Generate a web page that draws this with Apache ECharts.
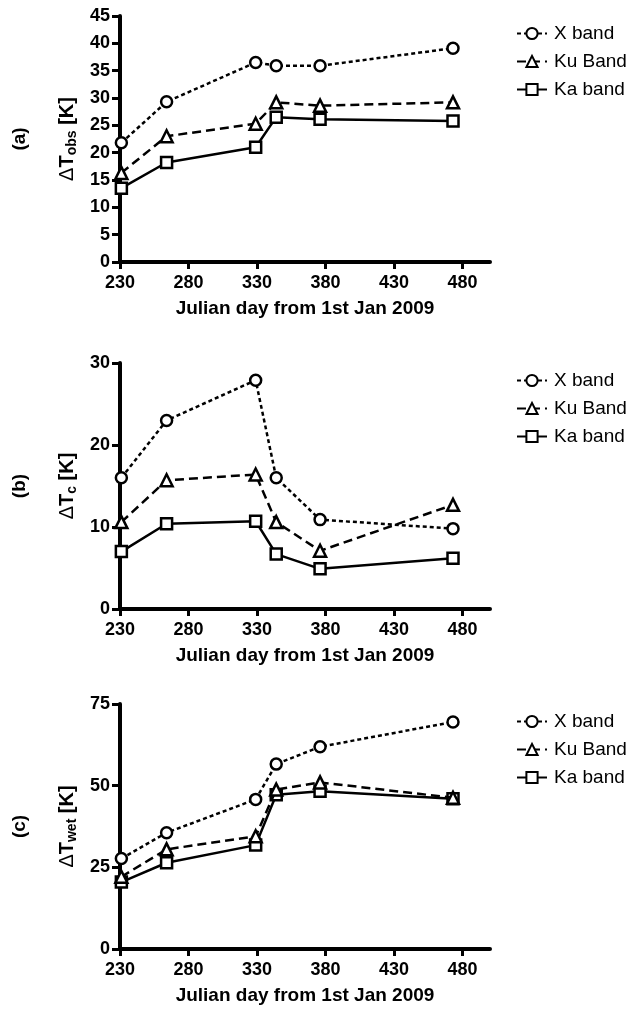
<!DOCTYPE html>
<html>
<head>
<meta charset="utf-8">
<script src="https://cdn.jsdelivr.net/npm/echarts@6/dist/echarts.min.js"></script>
<style>
  html, body { margin: 0; padding: 0; background: #fff; }
  #chart { width: 633px; height: 1011px; }
</style>
</head>
<body>
<div id="chart"></div>
<script>
// julian day of each measurement
const days = [231, 264, 329, 344, 376, 473]

// (a) delta T obs
const obsX = [21.8, 29.3, 36.5, 35.9, 35.9, 39.1]
const obsKu = [16.3, 23.0, 25.3, 29.2, 28.6, 29.2]
const obsKa = [13.5, 18.2, 21.0, 26.5, 26.1, 25.8]

// (b) delta T c
const cX = [16.0, 23.0, 27.9, 16.0, 10.9, 9.8]
const cKu = [10.6, 15.7, 16.4, 10.6, 7.1, 12.7]
const cKa = [7.0, 10.4, 10.7, 6.7, 4.9, 6.2]

// (c) delta T wet
const wetX = [27.7, 35.6, 45.8, 56.6, 61.9, 69.5]
const wetKu = [22.1, 30.5, 34.5, 48.8, 51.0, 46.3]
const wetKa = [20.5, 26.4, 31.8, 47.2, 48.3, 46.0]

const bandNames = ['X band', 'Ku Band', 'Ka band']
const panelLabels = ['(a)', '(b)', '(c)']
const yNames = ['obs', 'c', 'wet']
const yMax = [45, 30, 75]
const yStep = [5, 10, 25]
const xTicks = [230, 280, 330, 380, 430, 480]
const xTitle = 'Julian day from 1st Jan 2009'

const font = 'Liberation Sans, Arial, sans-serif'
const panels = [
  { top: 16, height: 246, values: [obsX, obsKu, obsKa] },
  { top: 363, height: 246, values: [cX, cKu, cKa] },
  { top: 704, height: 245, values: [wetX, wetKu, wetKa] }
]

const bandStyle = [
  { symbol: 'circle', dash: [4, 3] },
  { symbol: 'triangle', dash: [9, 5] },
  { symbol: 'rect', dash: 'solid' }
]

function toPairs(vals) {
  return days.map((d, i) => [d, vals[i]])
}

const chart = echarts.init(document.getElementById('chart'), null, { renderer: 'canvas' })

const grid = []
const xAxis = []
const yAxis = []
const series = []
const legend = []
const graphic = []

panels.forEach((p, k) => {
  grid.push({ left: 120, right: 143, top: p.top, height: p.height, containLabel: false })

  xAxis.push({
    type: 'value',
    gridIndex: k,
    min: 230,
    max: 500,
    interval: 50,
    splitLine: { show: false },
    axisLine: { show: true, lineStyle: { color: '#000', width: 4 } },
    axisTick: { show: true, length: 7, lineStyle: { color: '#000', width: 3 }, customValues: xTicks },
    axisLabel: { color: '#000', fontFamily: font, fontWeight: 'bold', fontSize: 18, margin: 12, customValues: xTicks },
    name: xTitle,
    nameLocation: 'middle',
    nameGap: 37,
    nameTextStyle: { color: '#000', fontFamily: font, fontWeight: 'bold', fontSize: 19 }
  })

  yAxis.push({
    type: 'value',
    gridIndex: k,
    min: 0,
    max: yMax[k],
    interval: yStep[k],
    splitLine: { show: false },
    axisLine: { show: true, onZero: false, lineStyle: { color: '#000', width: 4 } },
    axisTick: { show: true, length: 8, lineStyle: { color: '#000', width: 3 } },
    axisLabel: { color: '#000', fontFamily: font, fontWeight: 'bold', fontSize: 18, margin: 10 },
    name: '{d|Δ}{t|T}{s|' + yNames[k] + '}{t| [K]}',
    nameLocation: 'middle',
    nameRotate: 90,
    nameGap: 33,
    nameTextStyle: {
      color: '#000',
      rich: {
        d: { fontFamily: font, fontSize: 20, color: '#000', lineHeight: 24 },
        t: { fontFamily: font, fontWeight: 'bold', fontSize: 20, color: '#000', lineHeight: 24 },
        s: { fontFamily: font, fontWeight: 'bold', fontSize: 14, color: '#000', lineHeight: 24,
          verticalAlign: 'bottom', padding: [6, 0, 0, 0] }
      }
    }
  })

  p.values.forEach((vals, j) => {
    series.push({
      name: bandNames[j],
      type: 'line',
      xAxisIndex: k,
      yAxisIndex: k,
      data: toPairs(vals),
      symbol: bandStyle[j].symbol,
      symbolSize: j === 1 ? 12 : 11,
      lineStyle: { color: '#000', width: 2.5, type: bandStyle[j].dash },
      itemStyle: { color: '#fff', borderColor: '#000', borderWidth: 2.5 },
      animation: false,
      z: 3 - j
    })
  })

  legend.push({
    data: bandNames,
    orient: 'vertical',
    left: 511,
    top: p.top + 3,
    itemWidth: 30,
    itemHeight: 14,
    itemGap: 9,
    selectedMode: false,
    textStyle: { color: '#000', fontFamily: font, fontSize: 19, lineHeight: 19, padding: [0, 0, 0, 2] }
  })

  graphic.push({
    type: 'text',
    x: 20,
    y: p.top + p.height / 2,
    rotation: Math.PI / 2,
    style: {
      text: panelLabels[k],
      fill: '#000',
      font: 'bold 19px ' + font,
      align: 'center',
      verticalAlign: 'middle'
    }
  })
})

chart.setOption({
  backgroundColor: '#fff',
  animation: false,
  grid,
  xAxis,
  yAxis,
  series,
  legend,
  graphic
})
</script>
</body>
</html>
